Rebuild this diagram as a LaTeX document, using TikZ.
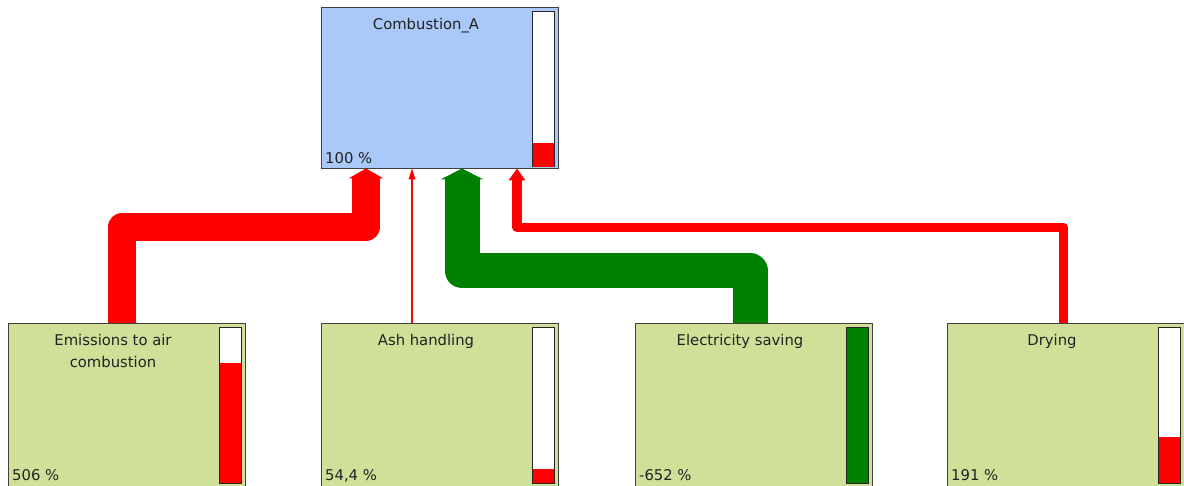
\documentclass[tikz,border=0pt]{standalone}
\usepackage{fontspec}
\setmainfont{DejaVu Sans}
\usetikzlibrary{arrows.meta}
\definecolor{topfill}{RGB}{170,200,248}
\definecolor{botfill}{RGB}{208,224,153}
\definecolor{flowred}{RGB}{255,0,0}
\definecolor{flowgreen}{RGB}{0,128,0}
\definecolor{edge}{RGB}{64,64,64}
\definecolor{txt}{RGB}{34,34,34}
\begin{document}
\begin{tikzpicture}[x=1pt,y=-1pt,
  box/.style={draw=edge, line width=1pt, inner sep=0pt, minimum width=237pt, anchor=north west},
  topbox/.style={box, fill=topfill, minimum height=161pt},
  procbox/.style={box, fill=botfill, minimum height=162pt},
  bar/.style={draw=black!85, line width=1pt, fill=white, inner sep=0pt, minimum width=22pt, minimum height=155pt, anchor=north east},
  level/.style={inner sep=0pt, minimum width=21pt, anchor=south, fill=#1},
  title/.style={font=\fontsize{14.8}{22}\selectfont, text=txt, anchor=base, align=center, inner sep=0pt},
  pct/.style={font=\fontsize{14.8}{18}\selectfont, text=txt, anchor=base west, inner sep=0pt},
  flow/.style={line join=round, line cap=butt}
]
\useasboundingbox (0,0) rectangle (1184,486);

% boxes
\node[topbox] (top) at (320.5,7.5) {};
\node[procbox] (b1) at (7.5,323.5) {};
\node[procbox] (b2) at (320.5,323.5) {};
\node[procbox] (b3) at (634.5,323.5) {};
\node[procbox] (b4) at (946.5,323.5) {};

% bars
\node[bar] (topbar) at ([xshift=-3.5pt,yshift=-4pt]top.north east) {};
\node[level=flowred, minimum height=24pt] (toplev) at ([yshift=0.5pt]topbar.south) {};
\node[bar] (bar1) at ([xshift=-3.5pt,yshift=-4pt]b1.north east) {};
\node[level=flowred, minimum height=120pt] (lev1) at ([yshift=0.5pt]bar1.south) {};
\node[bar] (bar2) at ([xshift=-3.5pt,yshift=-4pt]b2.north east) {};
\node[level=flowred, minimum height=14pt] (lev2) at ([yshift=0.5pt]bar2.south) {};
\node[bar, fill=flowgreen] (bar3) at ([xshift=-3.5pt,yshift=-4pt]b3.north east) {};
\node[bar] (bar4) at ([xshift=-3.5pt,yshift=-4pt]b4.north east) {};
\node[level=flowred, minimum height=46pt] (lev4) at ([yshift=0.5pt]bar4.south) {};

% titles
\node[title] (ttop) at ([xshift=105.5pt,yshift=-22pt]top.north west) {Combustion\_A};
\node[title] (t1) at ([xshift=105.5pt,yshift=-44pt]b1.north west) {Emissions to air\\combustion};
\node[title] (t2) at ([xshift=105.5pt,yshift=-22pt]b2.north west) {Ash handling};
\node[title] (t3) at ([xshift=105.5pt,yshift=-22pt]b3.north west) {Electricity saving};
\node[title] (t4) at ([xshift=105.5pt,yshift=-22pt]b4.north west) {Drying};

% percentages
\node[pct] (ptop) at ([xshift=4.5pt,yshift=6pt]top.south west) {100 \%};
\node[pct] (p1) at ([xshift=4.5pt,yshift=6pt]b1.south west) {506 \%};
\node[pct] (p2) at ([xshift=4.5pt,yshift=6pt]b2.south west) {54,4 \%};
\node[pct] (p3) at ([xshift=4.5pt,yshift=6pt]b3.south west) {-652 \%};
\node[pct] (p4) at ([xshift=4.5pt,yshift=6pt]b4.south west) {191 \%};

% connectors
\coordinate (e1) at (122,227);
\coordinate (e2) at (366,227);
\draw[flow, flowred, line width=28pt, -{Triangle[width=35pt,length=10pt,line width=0pt]}, shorten >=-1pt]
  (b1.north -| e1) -- (e1) -- (e2) -- (e2 |- top.south);

\coordinate (ax) at (412,300);
\draw[flow, flowred, line width=2pt, -{Triangle[width=7pt,length=11pt,line width=0pt]}, shorten >=-1pt]
  (b2.north -| ax) -- (top.south -| ax);

\coordinate (g1) at (750,271);
\coordinate (g2) at (462,271);
\draw[flow, flowgreen, line width=35pt, -{Triangle[width=43pt,length=11pt,line width=0pt]}, shorten >=-1pt]
  (b3.north -| g1) -- (g1) -- (g2) -- (g2 |- top.south);

\coordinate (d1) at (1063.5,227.5);
\coordinate (d2) at (517,227.5);
\draw[flow, flowred, line width=9.5pt, -{Triangle[width=17pt,length=12pt,line width=0pt]}, shorten >=-1pt]
  (b4.north -| d1) -- (d1) -- (d2) -- (d2 |- top.south);
\end{tikzpicture}
\end{document}
